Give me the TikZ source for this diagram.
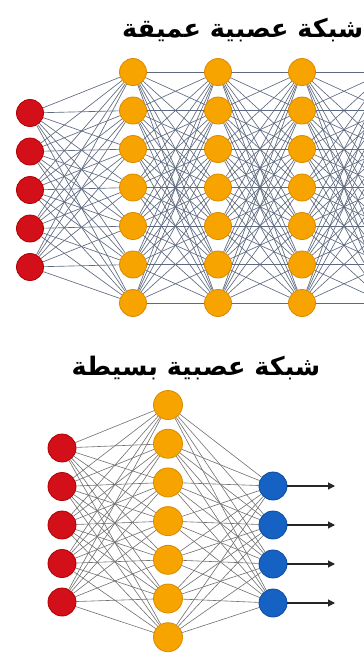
\documentclass[tikz,border=0pt]{standalone}
\usepackage{fontspec}
\newfontfamily\arabicfont[Script=Arabic]{DejaVu Sans}
\TeXXeTstate=1
\usetikzlibrary{arrows.meta,backgrounds}
\definecolor{nred}{HTML}{D30F19}
\definecolor{nredd}{HTML}{B00000}
\definecolor{norange}{HTML}{F7A300}
\definecolor{norangeb}{HTML}{D98A00}
\definecolor{nblue}{HTML}{1562C4}
\definecolor{nblued}{HTML}{0B4A9C}
\definecolor{wiredeep}{HTML}{5E6A80}
\definecolor{wirelight}{HTML}{707070}
\begin{document}
\begin{tikzpicture}[x=1pt,y=-1pt,
  neuron/.style={circle,inner sep=0pt,minimum size=27pt,line width=0.8pt},
  inred/.style={neuron,fill=nred,draw=nredd},
  hid/.style={neuron,fill=norange,draw=norangeb},
  outb/.style={neuron,fill=nblue,draw=nblued},
  wire/.style={draw=wiredeep,line width=0.65pt},
  wiretwo/.style={draw=wirelight,line width=0.6pt},
  outarrow/.style={draw=black!85,line width=1.1pt,-{Triangle[length=7pt,width=7pt]}},
  titletext/.style={font=\arabicfont\bfseries\fontsize{25.5}{30}\selectfont,inner sep=0pt}]
\useasboundingbox (0,0) rectangle (364,657);
% ---------- titles
\node[titletext,anchor=west] (t1) at (122,30) {\beginR شبكة عصبية عميقة\endR};
\node[titletext] (t2) at (196,368) {\beginR شبكة عصبية بسيطة\endR};
% ---------- deep network
\foreach \i in {1,...,5} \node[inred] (a\i) at (30,{113+(\i-1)*38.5}) {};
\foreach \j in {1,...,7} {
  \node[hid] (b\j) at (133,{72+(\j-1)*38.5}) {};
  \node[hid] (c\j) at (218,{72+(\j-1)*38.5}) {};
  \node[hid] (d\j) at (302,{72+(\j-1)*38.5}) {};
  \coordinate (e\j) at (386,{72+(\j-1)*38.5});
}
% ---------- simple network
\foreach \i in {1,...,5} \node[inred,minimum size=28pt] (p\i) at (62,{448+(\i-1)*38.5}) {};
\foreach \j in {1,...,7} \node[hid,minimum size=29pt] (q\j) at (168,{405+(\j-1)*38.7}) {};
\foreach \k in {1,...,4} {
  \node[outb,minimum size=28pt] (r\k) at (273,{486+(\k-1)*39}) {};
  \coordinate (s\k) at (335,{486+(\k-1)*39});
  \draw[outarrow] (r\k) -- (s\k);
}
% ---------- connections
\begin{scope}[on background layer]
  \fill[white] (0,0) rectangle (364,657);
  \clip (0,0) rectangle (364,657);
  \foreach \i in {1,...,5} \foreach \j in {1,...,7} \draw[wire] (a\i) -- (b\j);
  \foreach \i in {1,...,7} \foreach \j in {1,...,7} {
    \draw[wire] (b\i) -- (c\j);
    \draw[wire] (c\i) -- (d\j);
    \draw[wire] (d\i) -- (e\j);
  }
  \foreach \i in {1,...,5} \foreach \j in {1,...,7} \draw[wiretwo] (p\i) -- (q\j);
  \foreach \j in {1,...,7} \foreach \k in {1,...,4} \draw[wiretwo] (q\j) -- (r\k);
\end{scope}
\end{tikzpicture}
\end{document}
